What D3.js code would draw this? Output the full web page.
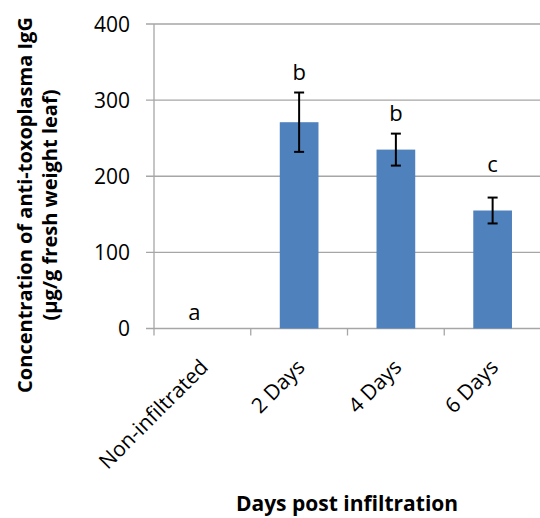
<!DOCTYPE html>
<html>
<head>
<meta charset="utf-8">
<script src="https://cdn.jsdelivr.net/npm/d3@7"></script>
<style>
  body { margin: 0; background: #fff; }
  text { font-family: "Open Sans", "Noto Sans", sans-serif; fill: #000; }
</style>
</head>
<body>
<svg id="chart" width="540" height="518"></svg>
<script>
// data
var categories = ["Non-infiltrated", "2 Days", "4 Days", "6 Days"];
var means = [0, 271, 235, 155];
var errors = [0, 39, 21, 17];
var letters = ["a", "b", "b", "c"];
var letterAt = [11, 326, 273, 206];   // baseline of the letter, in data units
var yTicks = [0, 100, 200, 300, 400];

var svg = d3.select("#chart");
var plotLeft = 154, plotRight = 541, plotTop = 24, plotBottom = 328.5;

var x = d3.scaleBand().domain(categories).range([plotLeft, plotRight]).padding(0);
var y = d3.scaleLinear().domain([0, 400]).range([plotBottom, plotTop]);

// gridlines + y ticks
svg.append("g").selectAll("line").data(yTicks).enter().append("line")
    .attr("x1", plotLeft - 8).attr("x2", plotRight)
    .attr("y1", d => y(d)).attr("y2", d => y(d))
    .attr("stroke", "#a6a6a6").attr("stroke-width", 1.3);

svg.append("g").selectAll("text").data(yTicks).enter().append("text")
    .attr("x", plotLeft - 24).attr("y", d => y(d) + 7.5)
    .attr("text-anchor", "end").style("font-size", "21px")
    .text(d => d);

// y axis line
svg.append("line").attr("x1", plotLeft).attr("x2", plotLeft).attr("y1", plotTop).attr("y2", plotBottom)
    .attr("stroke", "#a6a6a6").attr("stroke-width", 1.3);

// x ticks at band edges
var edges = categories.map(c => x(c)).concat([plotRight]);
svg.append("g").selectAll("line").data(edges).enter().append("line")
    .attr("x1", d => d).attr("x2", d => d)
    .attr("y1", plotBottom).attr("y2", plotBottom + 7)
    .attr("stroke", "#a6a6a6").attr("stroke-width", 1.3);

// bars
var bw = x.bandwidth() * 0.4;
svg.append("g").selectAll("rect").data(categories).enter().append("rect")
    .attr("x", d => x(d) + (x.bandwidth() - bw) / 2)
    .attr("width", bw)
    .attr("y", (d, i) => y(means[i]))
    .attr("height", (d, i) => y(0) - y(means[i]))
    .attr("fill", "#4f81bd");

// error bars
var eb = svg.append("g").attr("stroke", "#000").attr("stroke-width", 2);
categories.forEach(function (c, i) {
    if (!errors[i]) return;
    var cx = x(c) + x.bandwidth() / 2;
    eb.append("line").attr("x1", cx).attr("x2", cx)
        .attr("y1", y(means[i] + errors[i])).attr("y2", y(means[i] - errors[i]));
    [means[i] + errors[i], means[i] - errors[i]].forEach(function (v) {
        eb.append("line").attr("x1", cx - 5).attr("x2", cx + 5)
            .attr("y1", y(v)).attr("y2", y(v));
    });
});

// significance letters
svg.append("g").selectAll("text").data(categories).enter().append("text")
    .attr("x", (d, i) => x(d) + x.bandwidth() / 2 - (means[i] ? 0 : 8))
    .attr("y", (d, i) => y(letterAt[i]))
    .attr("text-anchor", "middle").style("font-size", "22px")
    .text((d, i) => letters[i]);

// x tick labels, rotated
svg.append("g").selectAll("text").data(categories).enter().append("text")
    .attr("text-anchor", "end").style("font-size", "21px")
    .attr("transform", d => "translate(" + (x(d) + x.bandwidth() / 2 + 7) + "," + (plotBottom + 40) + ") rotate(-45)")
    .text(d => d);

// axis titles
svg.append("text")
    .attr("transform", "translate(32,205) rotate(-90)")
    .attr("text-anchor", "middle").style("font-size", "20px").style("font-weight", "bold")
    .text("Concentration of anti-toxoplasma IgG");
svg.append("text")
    .attr("transform", "translate(57,205) rotate(-90)")
    .attr("text-anchor", "middle").style("font-size", "20px").style("font-weight", "bold")
    .text("(µg/g fresh weight leaf)");

svg.append("text")
    .attr("x", 347).attr("y", 511)
    .attr("text-anchor", "middle").style("font-size", "21px").style("font-weight", "bold")
    .text("Days post infiltration");
</script>
</body>
</html>
